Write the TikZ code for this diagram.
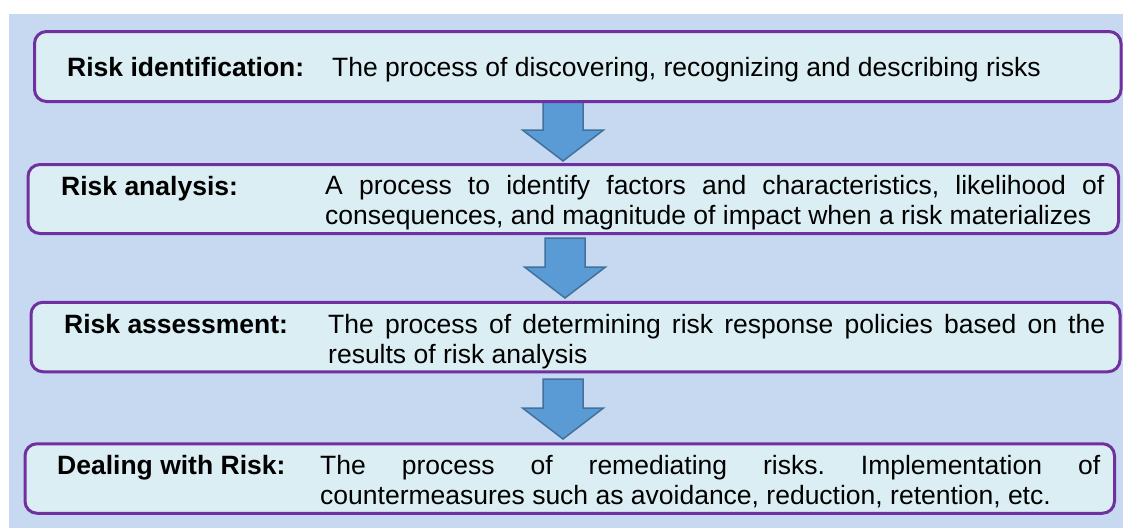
\documentclass[tikz,border=0pt]{standalone}
\usepackage{fontspec}
\setmainfont{Liberation Sans}
\usetikzlibrary{calc}
\definecolor{bgblue}{HTML}{C6D9F0}
\definecolor{boxfill}{HTML}{DAEEF3}
\definecolor{boxline}{HTML}{7030A0}
\definecolor{arrfill}{HTML}{5B9BD5}
\definecolor{arrline}{HTML}{41719C}
\frenchspacing
\newcommand\twolines[3]{\vtop{\baselineskip=30pt\hbox{\makebox[#1][s]{#2}}\hbox{#3}}}
\tikzset{
  stagebox/.style={draw=boxline, line width=3pt, fill=boxfill, rounded corners=12pt},
  labeltext/.style={anchor=base west, inner sep=0pt, font=\fontsize{26.5}{30}\selectfont\bfseries},
  desctext/.style={anchor=base west, inner sep=0pt, font=\fontsize{26.5}{30}\selectfont},
  blockarrow/.style={draw=arrline, line width=1.5pt, fill=arrfill, line join=miter},
}
\begin{document}
\begin{tikzpicture}[x=1pt,y=-1pt]
\useasboundingbox (0,0) rectangle (1123,528);
\fill[white] (0,0) rectangle (1123,528);
\fill[bgblue] (9,14) rectangle (1123,528);

% arrows (drawn first, boxes on top)
\coordinate (t1) at (563,101);
\coordinate (p1) at (563,161);
\coordinate (t2) at (565,238);
\coordinate (p2) at (565,298);
\coordinate (t3) at (563,379);
\coordinate (p3) at (563,439);
\foreach \i in {1,2,3}{
  \draw[blockarrow] ($(t\i)+(-20,0)$) -- ($(t\i)+(20,0)$) -- ($(p\i)+(20,-31)$)
    -- ($(p\i)+(40.5,-31)$) -- (p\i) -- ($(p\i)+(-40.5,-31)$) -- ($(p\i)+(-20,-31)$) -- cycle;
}

% boxes
\node[stagebox, minimum width=1086.5pt, minimum height=70pt, inner sep=0pt] (b1) at (577.75,66.5) {};
\node[stagebox, minimum width=1090.5pt, minimum height=69pt, inner sep=0pt] (b2) at (573.25,199) {};
\node[stagebox, minimum width=1089pt, minimum height=69.5pt, inner sep=0pt] (b3) at (575.5,337) {};
\node[stagebox, minimum width=1089.5pt, minimum height=69.5pt, inner sep=0pt] (b4) at (569.75,478.5) {};

% texts
\node[labeltext] (l1) at (67,76) {Risk identification:};
\node[desctext] (d1) at (332,76) {The process of discovering, recognizing and describing risks};

\node[labeltext] (l2) at (61,195) {Risk analysis:};
\node[desctext] (d2) at (325,194) {\twolines{779pt}{A process to identify factors and characteristics, likelihood of}{consequences, and magnitude of impact when a risk materializes}};

\node[labeltext] (l3) at (64,333) {Risk assessment:};
\node[desctext] (d3) at (328,333) {\twolines{777pt}{The process of determining risk response policies based on the}{results of risk analysis}};

\node[labeltext] (l4) at (57,474) {Dealing with Risk:};
\node[desctext] (d4) at (320,474) {\twolines{780pt}{The process of remediating risks. Implementation of}{countermeasures such as avoidance, reduction, retention, etc.}};
\end{tikzpicture}
\end{document}
